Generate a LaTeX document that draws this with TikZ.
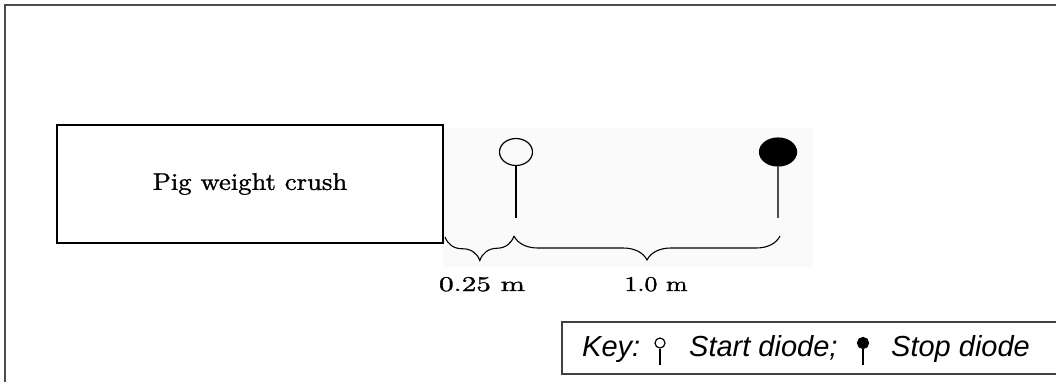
\documentclass[tikz,border=0pt]{standalone}
\usepackage{fontspec}
\newfontfamily\keyfont{Liberation Sans}
\newfontfamily\labelfont{lmroman10-regular.otf}[FakeBold=1.2]
\usetikzlibrary{decorations.pathreplacing,shapes.geometric}
\begin{document}
\begin{tikzpicture}[x=1pt,y=-1pt,
  frameline/.style={draw=black!70,line width=2pt},
  keyframe/.style={draw=black!75,line width=1.5pt},
  crushbox/.style={draw,line width=1.2pt,minimum width=386pt,minimum height=118pt,inner sep=0pt},
  diodehead/.style={ellipse,draw,line width=1.2pt,inner sep=0pt},
  stick/.style={line width=1.3pt},
  bracestyle/.style={decorate,decoration={brace,mirror,amplitude=24pt},line width=1.1pt},
  lbl/.style={inner sep=0pt,anchor=base},
  keytext/.style={inner sep=0pt,anchor=base west,font=\keyfont\itshape\fontsize{29}{34}\selectfont},
]
\useasboundingbox (0,0) rectangle (1056,381);
\clip (0,0) rectangle (1056,381);
\fill[white] (0,0) rectangle (1056,381);
\fill[black!2] (443,128) rectangle (813,267);

% outer frame (only top and left visible)
\draw[frameline] (1070,5) -- (5,5) -- (5,395);

% crush box
\node[crushbox] (crush) at (250,184) {\scalebox{1.11}[1]{\labelfont\fontsize{24}{28}\selectfont Pig weight crush}};

% diodes
\node[diodehead,minimum width=33pt,minimum height=27pt] (startd) at (516,152) {};
\node[diodehead,fill=black,minimum width=37pt,minimum height=28pt] (stopd) at (778,152) {};
\coordinate (startfoot) at (516,218);
\coordinate (stopfoot) at (778,218);
\draw[stick] (startd.south) -- (startfoot);
\draw[stick,draw=black!70] (stopd.south) -- (stopfoot);

% braces
\coordinate (b0) at (445,237);
\coordinate (b1) at (514,236);
\coordinate (b2) at (780,236);
\draw[bracestyle] (b0) -- (b1);
\draw[bracestyle] (b1) -- (b2);

\node[lbl] (d1) at (482,291) {\scalebox{1.39}[1]{\labelfont\fontsize{21}{24}\selectfont 0.25 m}};
\node[lbl] (d2) at (656,291) {\scalebox{1.23}[1]{\labelfont\fontsize{21}{24}\selectfont 1.0 m}};

% key
\draw[keyframe] (562,322) rectangle (1075,374);
\node[keytext] (keylbl) at (582,356) {Key:};
\node[circle,draw,line width=1.2pt,minimum size=10pt,inner sep=0pt] (ks) at (660,343) {};
\coordinate (ksfoot) at (660,365);
\draw[stick] (ks.south) -- (ksfoot);
\node[keytext] (starttxt) at (689,356) {Start diode;};
\node[circle,draw,fill=black,line width=1.2pt,minimum size=11pt,inner sep=0pt] (kp) at (863,343) {};
\coordinate (kpfoot) at (863,365);
\draw[stick] (kp.south) -- (kpfoot);
\node[keytext] (stoptxt) at (891,356) {Stop diode};
\end{tikzpicture}
\end{document}
